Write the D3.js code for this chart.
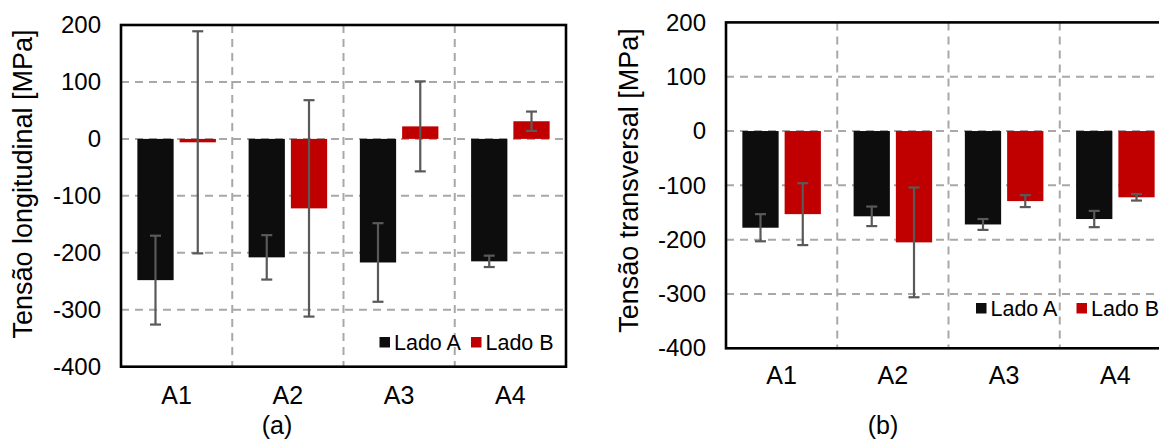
<!DOCTYPE html>
<html>
<head>
<meta charset="utf-8">
<script src="https://cdn.jsdelivr.net/npm/d3@7"></script>
<style>
  html, body { margin: 0; padding: 0; background: #fff; }
  svg { display: block; font-family: "Liberation Sans", Arial, sans-serif; }
</style>
</head>
<body>
<svg id="chart" width="1159" height="441"></svg>
<script>
// ---- data ----
const categories = ["A1", "A2", "A3", "A4"];
const seriesNames = ["Lado A", "Lado B"];
const yTicks = [200, 100, 0, -100, -200, -300, -400];

// (a) Tensão longitudinal
const longLadoA = [-248, -208, -217, -215];
const longLadoAErr = [78, 39, 69, 10];
const longLadoB = [-6, -122, 22, 31];
const longLadoBErr = [195, 190, 79, 17];

// (b) Tensão transversal
const transLadoA = [-178, -157, -172, -162];
const transLadoAErr = [25, 18, 10, 15];
const transLadoB = [-153, -205, -129, -122];
const transLadoBErr = [57, 101, 11, 6];

const colors = ["#0d0d0d", "#c00000"];

const svg = d3.select("#chart");

function panel(cfg) {
  const g = svg.append("g");
  const x0 = d3.scaleBand().domain(categories).range([cfg.left, cfg.right]).paddingInner(0).paddingOuter(0);
  const x1 = d3.scaleBand().domain(seriesNames).range([0, x0.bandwidth()]).paddingInner(0.142).paddingOuter(0.387);
  const y = d3.scaleLinear().domain([-400, 200]).range([cfg.bottom, cfg.top]);

  // grid horizontal
  g.append("g").selectAll("line").data(yTicks.filter(t => t !== 200 && t !== -400)).join("line")
    .attr("x1", cfg.left).attr("x2", cfg.right)
    .attr("y1", d => y(d)).attr("y2", d => y(d))
    .attr("stroke", "#aba7a7").attr("stroke-width", 2).attr("stroke-dasharray", "8,6");
  // grid vertical
  g.append("g").selectAll("line").data(categories.slice(1)).join("line")
    .attr("x1", d => x0(d)).attr("x2", d => x0(d))
    .attr("y1", cfg.top).attr("y2", cfg.bottom)
    .attr("stroke", "#aba7a7").attr("stroke-width", 2).attr("stroke-dasharray", "8,6");

  const series = [
    { name: seriesNames[0], vals: cfg.a, errs: cfg.aErr, color: colors[0] },
    { name: seriesNames[1], vals: cfg.b, errs: cfg.bErr, color: colors[1] }
  ];

  series.forEach(s => {
    const data = categories.map((c, i) => ({ c, v: s.vals[i], e: s.errs[i] }));
    g.append("g").selectAll("rect").data(data).join("rect")
      .attr("x", d => x0(d.c) + x1(s.name))
      .attr("width", x1.bandwidth())
      .attr("y", d => y(Math.max(0, d.v)))
      .attr("height", d => Math.abs(y(d.v) - y(0)))
      .attr("fill", s.color);
  });

  // error bars
  series.forEach(s => {
    const data = categories.map((c, i) => ({ c, v: s.vals[i], e: s.errs[i] }));
    const eg = g.append("g").attr("stroke", "#595959").attr("stroke-width", 2.2);
    const cx = d => x0(d.c) + x1(s.name) + x1.bandwidth() / 2;
    eg.selectAll("line.v").data(data).join("line").attr("class", "v")
      .attr("x1", cx).attr("x2", cx)
      .attr("y1", d => y(d.v + d.e)).attr("y2", d => y(d.v - d.e));
    eg.selectAll("line.t").data(data).join("line").attr("class", "t")
      .attr("x1", d => cx(d) - 5.5).attr("x2", d => cx(d) + 5.5)
      .attr("y1", d => y(d.v + d.e)).attr("y2", d => y(d.v + d.e));
    eg.selectAll("line.b").data(data).join("line").attr("class", "b")
      .attr("x1", d => cx(d) - 5.5).attr("x2", d => cx(d) + 5.5)
      .attr("y1", d => y(d.v - d.e)).attr("y2", d => y(d.v - d.e));
  });

  // frame
  g.append("rect")
    .attr("x", cfg.left).attr("y", cfg.top)
    .attr("width", cfg.right - cfg.left).attr("height", cfg.bottom - cfg.top)
    .attr("fill", "none").attr("stroke", "#000").attr("stroke-width", 2.6);

  // y axis
  const ya = g.append("g").attr("transform", `translate(${cfg.left},0)`)
    .call(d3.axisLeft(y).tickValues(yTicks).tickSize(0).tickPadding(cfg.tickPad).tickFormat(d => String(d)));
  ya.select(".domain").remove();
  ya.selectAll("text").attr("font-size", 24).attr("fill", "#000").attr("font-family", "Liberation Sans, Arial, sans-serif");

  // x axis
  const xa = g.append("g").attr("transform", `translate(0,${cfg.bottom})`)
    .call(d3.axisBottom(x0).tickSize(0).tickPadding(0));
  xa.select(".domain").remove();
  xa.selectAll("text").attr("font-size", 25).attr("fill", "#000").attr("dy", null)
    .attr("y", cfg.xLabelBase).attr("font-family", "Liberation Sans, Arial, sans-serif");

  // y title
  g.append("text")
    .attr("transform", `translate(${cfg.titleX},${cfg.titleY}) rotate(-90)`)
    .attr("text-anchor", "middle").attr("font-size", 27).attr("fill", "#000")
    .text(cfg.title);

  // panel label
  g.append("text").attr("x", cfg.labelX).attr("y", 434).attr("text-anchor", "middle")
    .attr("font-size", 25).attr("fill", "#000").text(cfg.label);

  // legend
  const lg = g.append("g");
  seriesNames.forEach((n, i) => {
    lg.append("rect").attr("x", cfg.legend[i]).attr("y", cfg.legendY - 12.5)
      .attr("width", 10.5).attr("height", 10.5).attr("fill", colors[i]);
    lg.append("text").attr("x", cfg.legend[i] + 14.5).attr("y", cfg.legendY)
      .attr("font-size", 21.5).attr("fill", "#000").text(n);
  });
}

panel({
  left: 121, right: 566, top: 25, bottom: 366.7,
  a: longLadoA, aErr: longLadoAErr, b: longLadoB, bErr: longLadoBErr,
  tickPad: 20, xLabelBase: 37, title: "Tensão longitudinal  [MPa]", titleX: 32, titleY: 184,
  label: "(a)", labelX: 277, legend: [379.5, 471], legendY: 349.5
});

panel({
  left: 726, right: 1171, top: 22.4, bottom: 348.3,
  a: transLadoA, aErr: transLadoAErr, b: transLadoB, bErr: transLadoBErr,
  tickPad: 20, xLabelBase: 35.3, title: "Tensão transversal [MPa]", titleX: 637.5, titleY: 180.5,
  label: "(b)", labelX: 883, legend: [976, 1076.5], legendY: 315.5
});
</script>
</body>
</html>
